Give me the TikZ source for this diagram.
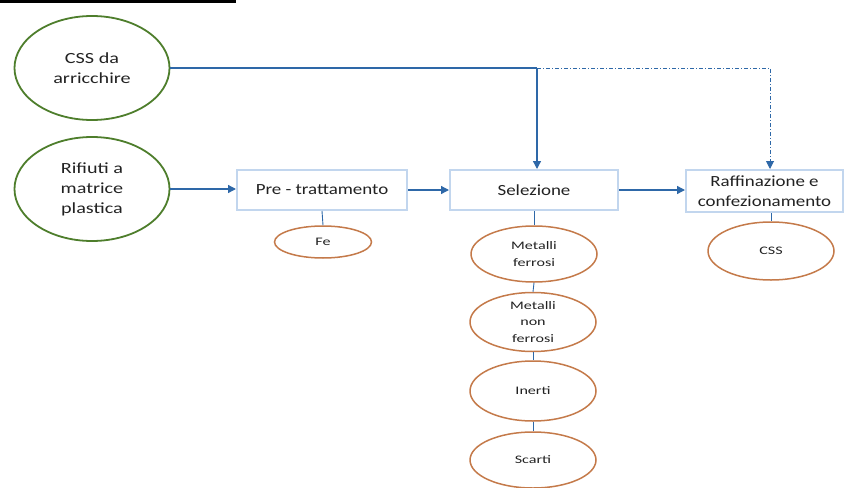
\documentclass[tikz,border=0pt]{standalone}
\usepackage{fontspec}
\setmainfont{Carlito}
\newfontfamily\gfont[FakeStretch=1.3]{Carlito}
\newfontfamily\bfontx[FakeStretch=1.22]{Carlito}
\newfontfamily\ofont[FakeStretch=1.4]{Carlito}
\usetikzlibrary{shapes.geometric,arrows.meta}
\definecolor{lineblue}{HTML}{2E68A8}
\definecolor{boxblue}{HTML}{C2D6EE}
\definecolor{grn}{HTML}{4E7E2C}
\definecolor{org}{HTML}{C47A4A}
\definecolor{txt}{HTML}{222222}
\tikzset{
  gell/.style={ellipse, draw=grn, line width=1.8pt, minimum width=155pt, minimum height=104pt, inner sep=0pt, align=center, text=txt, font=\gfont\fontsize{15.5}{20}\selectfont},
  oell/.style={ellipse, draw=org, line width=1.5pt, inner sep=0pt, align=center, text=txt, font=\ofont\fontsize{11.5}{16.5}\selectfont},
  procbox/.style={rectangle, draw=boxblue, line width=2pt, fill=white, inner sep=0pt, align=center, text=txt, font=\bfontx\fontsize{15.5}{20}\selectfont},
  flow/.style={draw=lineblue, line width=1.3pt, -{Triangle[length=8pt,width=8pt]}},
  thin/.style={draw=lineblue, line width=0.9pt},
}
\begin{document}
\begin{tikzpicture}[x=1pt,y=-1pt]
\useasboundingbox (0,0) rectangle (848,487);
\fill[black] (0,0) rectangle (236,3.5);
\node[gell] (css) at (92,68) {CSS da\\arricchire};
\node[gell] (rif) at (92,189) {Rifiuti a\\matrice\\plastica};
\node[procbox, minimum width=170pt, minimum height=40pt] (pre) at (322,190) {Pre - trattamento};
\node[procbox, minimum width=168pt, minimum height=40pt] (sel) at (534,190) {Selezione};
\node[procbox, minimum width=157pt, minimum height=42pt] (raf) at (764.5,191) {Raffinazione e\\confezionamento};
\node[oell, minimum width=97pt, minimum height=32pt] (fe) at (323,242) {Fe};
\node[oell, minimum width=126pt, minimum height=56pt] (mf) at (534,254) {Metalli\\ferrosi};
\node[oell, minimum width=126pt, minimum height=59pt] (mnf) at (533,322) {Metalli\\non\\ferrosi};
\node[oell, minimum width=126pt, minimum height=60pt] (ine) at (533,391) {Inerti};
\node[oell, minimum width=126pt, minimum height=56pt] (sca) at (533,460) {Scarti};
\node[oell, minimum width=126pt, minimum height=58pt] (cssout) at (771,251) {CSS};
\coordinate (j) at (537,68);
\coordinate (k) at (770,68);
\draw[flow] (rif.east) -- (rif.east -| pre.west);
\draw[flow] (pre.east) -- (sel.west);
\draw[flow] (sel.east) -- (sel.east -| raf.west);
\draw[draw=lineblue, line width=1.3pt] (css.east) -- (j);
\draw[flow] (j) -- (j |- sel.north);
\draw[flow, line width=1pt, dash pattern=on 4pt off 2pt on 1pt off 2pt] (j) -- (k) -- (k |- raf.north);
\draw[thin] (pre.south) -- (fe.north);
\draw[thin] (sel.south) -- (mf.north);
\draw[thin] (mf.south) -- (mnf.north);
\draw[thin] (mnf.south) -- (ine.north);
\draw[thin] (ine.south) -- (sca.north);
\draw[thin] (raf.south -| cssout.north) -- (cssout.north);
\end{tikzpicture}
\end{document}
